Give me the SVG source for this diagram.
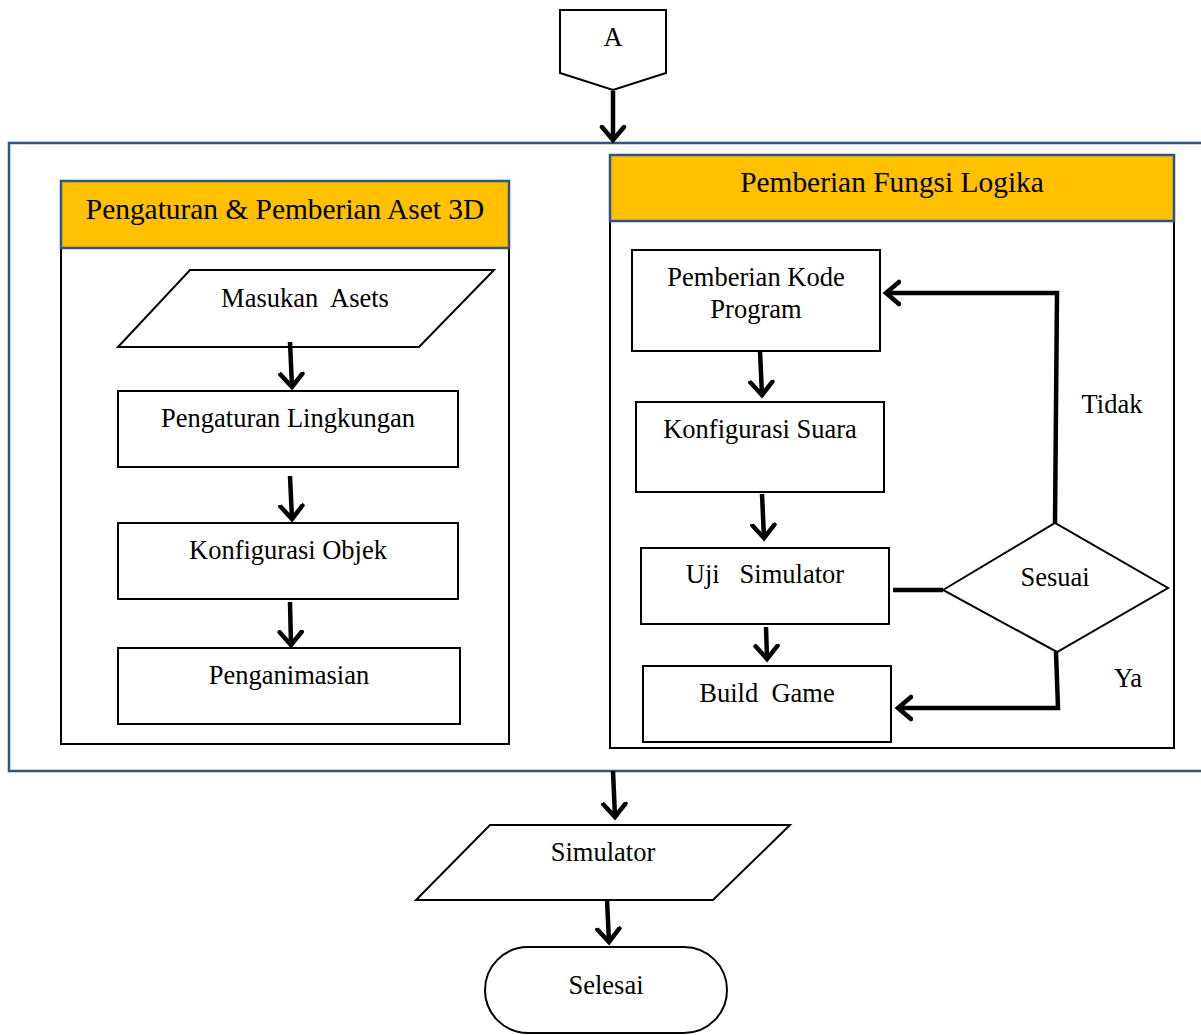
<svg xmlns="http://www.w3.org/2000/svg" width="1201" height="1035" viewBox="0 0 1201 1035">
<defs>
<marker id="ah" markerUnits="userSpaceOnUse" markerWidth="30" markerHeight="30" viewBox="-15 -15 30 30" refX="0" refY="0" orient="auto">
<path d="M-13,-11 L0,0 L-13,11" fill="none" stroke="#000" stroke-width="4.5" stroke-linecap="round" stroke-linejoin="miter"/>
</marker>
</defs>
<style>
.n{fill:#fff;stroke:#000;stroke-width:2}
.hd{fill:#FFC000;stroke:#2E5586;stroke-width:2.5}
text{font-family:'Liberation Serif','Times New Roman',serif}
.t{font-size:26.5px;fill:#000;text-anchor:middle}
.th{font-size:29.4px;fill:#000;text-anchor:middle}
.c{fill:none;stroke:#000;stroke-width:4.5}
.ca{fill:none;stroke:#000;stroke-width:4.5;marker-end:url(#ah)}
</style>
<rect width="1201" height="1035" fill="#fff"/>
<g id="outer"><rect x="9" y="143" width="1200" height="628" fill="none" stroke="#2E5586" stroke-width="2.5"/></g>
<g id="offpage-A"><path class="n" d="M560,10 L666,10 L666,73 L613,90 L560,73 Z"/><text class="t" x="613" y="46">A</text></g>
<g id="panel-left">
<rect class="n" x="61" y="248" width="448" height="496"/>
<rect class="hd" x="61" y="181" width="448" height="67"/>
<text class="th" x="285" y="219">Pengaturan &amp; Pemberian Aset 3D</text>
</g>
<g id="panel-right">
<rect class="n" x="610" y="221" width="564" height="527"/>
<rect class="hd" x="610" y="155" width="564" height="66"/>
<text class="th" x="892" y="192">Pemberian Fungsi Logika</text>
</g>
<g id="masukan-asets"><path class="n" d="M190,270 L494,270 L419,347 L118,347 Z"/><text class="t" x="305" y="307" xml:space="preserve">Masukan  Asets</text></g>
<g id="pengaturan-lingkungan"><rect class="n" x="118" y="391" width="340" height="76"/><text class="t" x="288" y="427">Pengaturan Lingkungan</text></g>
<g id="konfigurasi-objek"><rect class="n" x="118" y="523" width="340" height="76"/><text class="t" x="288" y="559">Konfigurasi Objek</text></g>
<g id="penganimasian"><rect class="n" x="118" y="648" width="342" height="76"/><text class="t" x="289" y="684">Penganimasian</text></g>
<g id="kode-program"><rect class="n" x="632" y="250" width="248" height="101"/><text class="t" x="756" y="286">Pemberian Kode</text><text class="t" x="756" y="318">Program</text></g>
<g id="konfigurasi-suara"><rect class="n" x="636" y="402" width="248" height="90"/><text class="t" x="760" y="438">Konfigurasi Suara</text></g>
<g id="uji-simulator"><rect class="n" x="641" y="548" width="248" height="76"/><text class="t" x="765" y="583" xml:space="preserve">Uji   Simulator</text></g>
<g id="build-game"><rect class="n" x="643" y="666" width="248" height="76"/><text class="t" x="767" y="702" xml:space="preserve">Build  Game</text></g>
<g id="sesuai"><path class="n" d="M943,590 L1055,523 L1168,588 L1057,652 Z"/><text class="t" x="1055" y="586">Sesuai</text></g>
<g id="simulator"><path class="n" d="M490,825 L790,825 L713,900 L416,900 Z"/><text class="t" x="603" y="861">Simulator</text></g>
<g id="selesai"><rect class="n" x="485" y="947" width="242" height="86" rx="43" ry="43"/><text class="t" x="606" y="994">Selesai</text></g>
<g id="connectors">
<path class="ca" d="M613,91 L613,140"/>
<path class="ca" d="M290,342 L292,387"/>
<path class="ca" d="M290,476 L292,519"/>
<path class="ca" d="M290,602 L291,645"/>
<path class="ca" d="M760,351 L762,395"/>
<path class="ca" d="M762,494 L764,538"/>
<path class="ca" d="M766,627 L767,659"/>
<path class="c" d="M893,590 L943,590"/>
<path class="ca" d="M1055,523 L1057,293 L886,293"/>
<path class="ca" d="M1056,652 L1058,708 L898,708"/>
<path class="ca" d="M613,771 L615,817"/>
<path class="ca" d="M607,900 L609,942"/>
<text class="t" x="1112" y="413">Tidak</text>
<text class="t" x="1128" y="687">Ya</text>
</g>
</svg>
